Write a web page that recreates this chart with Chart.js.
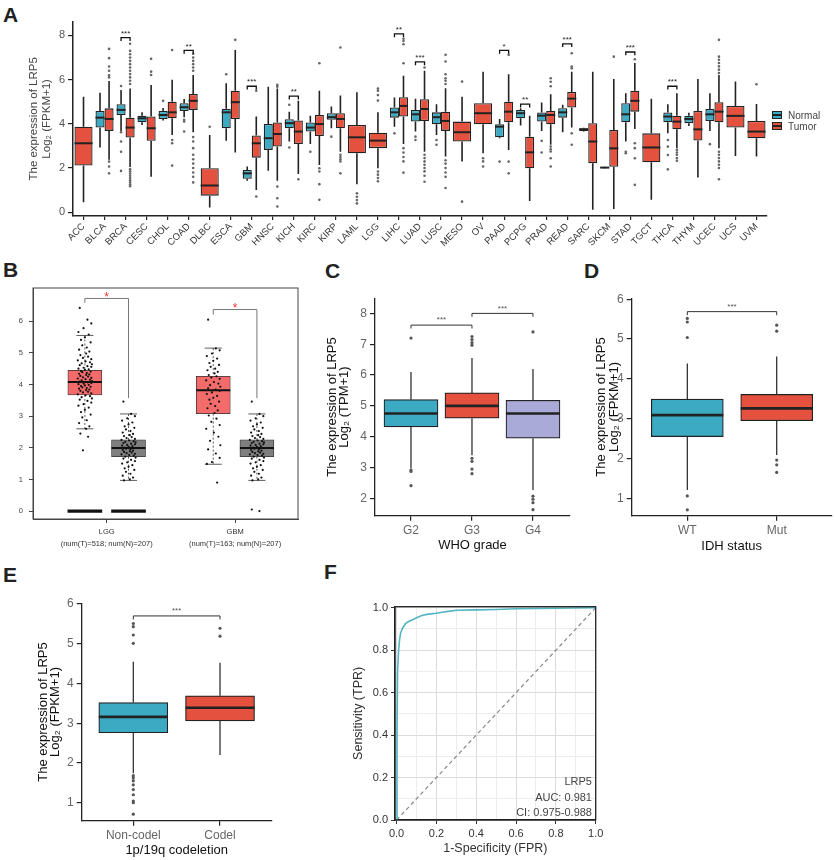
<!DOCTYPE html>
<html><head><meta charset="utf-8">
<script src="https://cdn.jsdelivr.net/npm/chart.js@4.4.1/dist/chart.umd.min.js"></script>
<style>
body{margin:0;background:#fff}
#fig{position:relative;width:835px;height:860px;overflow:hidden;font-family:'Liberation Sans',Arial,Helvetica,sans-serif}
.lt{position:absolute;font-size:21px;font-weight:bold;line-height:21px;color:#222}
.tx{position:absolute;white-space:nowrap;line-height:12px;z-index:5}
.key{position:absolute;width:8px;height:6px;border:1.5px solid #222;z-index:5}
.key i{position:absolute;left:0;right:0;top:2px;height:2px;background:#222}
</style></head><body>
<div id="fig">
  <div class="lt" style="left:3px;top:4px">A</div>
  <div class="lt" style="left:3px;top:259px">B</div>
  <div class="lt" style="left:325px;top:260px">C</div>
  <div class="lt" style="left:584px;top:260px">D</div>
  <div class="lt" style="left:3px;top:564px">E</div>
  <div class="lt" style="left:324px;top:561px">F</div>
  <div class="key" style="left:772px;top:111px;background:#3DAAC4"><i></i></div>
  <div class="tx" style="left:788px;top:110px;font-size:10px;color:#444">Normal</div>
  <div class="key" style="left:772px;top:122px;background:#E4513E"><i></i></div>
  <div class="tx" style="left:788px;top:121px;font-size:10px;color:#444">Tumor</div>
  <div class="tx" id="rocTxt" style="right:243px;top:774px;font-size:11px;line-height:15.6px;color:#444;text-align:right"></div>
</div>
<script>
// ---- A: pan-cancer expression (Normal vs Tumor) ----
const cancers=['ACC','BLCA','BRCA','CESC','CHOL','COAD','DLBC','ESCA','GBM','HNSC','KICH','KIRC','KIRP','LAML','LGG','LIHC','LUAD','LUSC','MESO','OV','PAAD','PCPG','PRAD','READ','SARC','SKCM','STAD','TGCT','THCA','THYM','UCEC','UCS','UVM'];
const normQ1 =[null,3.83,4.40,4.07,4.22,4.58,null,3.80,1.51,2.82,3.80,3.65,4.18,null,null,4.28,4.10,3.98,null,null,3.39,4.25,4.10,4.28,3.67,1.99,4.07,null,4.07,4.03,4.13,null,null];
const normMed=[null,4.28,4.63,4.25,4.40,4.75,null,4.52,1.76,3.35,4.03,3.83,4.30,null,null,4.52,4.43,4.30,null,null,3.87,4.48,4.37,4.52,3.75,2.02,4.43,null,4.33,4.22,4.43,null,null];
const normQ3 =[null,4.58,4.89,4.37,4.58,4.93,null,4.68,1.91,3.99,4.21,4.06,4.48,null,null,4.74,4.63,4.52,null,null,3.98,4.63,4.51,4.71,3.80,2.05,4.93,null,4.51,4.37,4.67,null,null];
const normLo =[null,2.93,3.68,3.95,4.15,4.30,null,3.23,1.42,1.88,3.20,3.09,3.80,null,null,3.87,3.65,3.50,null,null,3.35,3.92,3.68,3.62,3.65,1.98,3.20,null,3.57,3.90,3.68,null,null];
const normHi =[null,5.41,5.53,4.52,4.72,5.12,null,5.84,2.07,5.68,4.55,4.37,4.78,null,null,5.19,5.13,4.88,null,null,4.22,4.70,4.96,4.86,3.82,2.06,5.38,null,4.88,4.50,5.38,null,null];
const normOut=[[],[],[5.71,3.62,3.2,2.74,1.87],[],[5.04],[4.18,4.1,3.65],[],[6.24],[],[],[4.86,2.93],[2.74],[3.42],[],[],[3.57],[3.42,3.27],[3.27,3.05],[],[],[2.29],[],[3.23,2.7],[],[],[],[2.74,2.67],[],[3.27,2.97,2.59,1.94],[],[3.08],[],[]];
const tumQ1 =[2.11,3.68,3.38,3.23,4.25,4.63,0.75,4.22,2.47,2.97,3.09,3.45,3.80,2.67,2.90,4.33,4.13,3.68,3.20,3.98,4.07,1.99,3.98,4.74,2.22,2.06,4.55,2.26,3.75,3.24,4.07,3.83,3.35];
const tumMed=[3.12,4.22,3.83,3.80,4.52,5.04,1.21,4.98,3.12,3.54,3.65,3.99,4.22,3.39,3.24,4.81,4.67,4.13,3.62,4.48,4.55,2.71,4.40,5.14,3.20,2.89,5.04,2.93,4.10,3.75,4.55,4.36,3.65];
const tumQ3 =[3.87,4.70,4.28,4.33,5.00,5.35,1.99,5.50,3.47,4.06,4.15,4.40,4.48,3.95,3.60,5.20,5.11,4.55,4.10,4.93,5.00,3.42,4.58,5.44,4.03,3.72,5.50,3.57,4.37,4.58,4.98,4.81,4.13];
const tumLo =[0.45,2.37,2.05,1.61,3.50,3.62,0.21,2.70,1.01,1.42,1.73,2.14,2.74,1.27,1.99,3.09,2.74,2.52,2.29,2.67,2.82,0.51,3.05,3.83,0.11,0.15,3.77,0.56,2.89,1.57,2.89,2.55,2.52];
const tumHi =[5.23,5.94,5.60,5.76,5.99,6.21,3.50,7.34,4.33,5.60,5.04,5.50,5.28,5.43,4.52,6.18,6.40,5.61,5.23,6.36,6.24,4.37,5.34,6.36,6.36,6.03,6.75,5.13,5.38,6.03,6.21,5.91,4.90];
const tumOut=[[],[6.1,6.2,6.4,6.59,6.97,7.39,2.29,2.07,1.76],
 [5.8,5.95,6.1,6.25,6.4,6.55,6.7,6.85,7.0,7.15,7.3,7.62,1.95,1.85,1.75,1.65,1.55,1.45,1.35,1.25,1.18],
 [6.21,6.36,6.94],[7.34,3.27,3.12,2.11],
 [6.4,6.55,6.7,6.85,7.0,7.17,3.4,3.2,2.9,2.6,2.4,2.2,2.0,1.8,1.6,1.35],
 [3.87],[7.8],[5.5,0.71],[5.76,5.68,1.16,0.63,0.26],[1.49],[6.74,1.99,1.84,1.27,0.56],[7.45,2.6,2.5,2.4,2.3,1.76],
 [0.86,0.7,0.55,0.4],[5.6,5.5,5.3,5.05,1.84,1.7,1.55,1.4],[7.85,7.75,7.6,6.74,2.9,2.7,2.5,2.3,1.79],
 [6.55,2.6,2.45,2.3,2.15,2.0,1.85,1.65,1.38],[7.12,6.82,6.24,6.06,5.95,5.8,2.35,2.2,2.0,1.8,1.6,1.1],
 [5.91,0.48],[2.44,2.3,2.07],[7.12,2.29,1.76],[],[6.06,5.9,5.7,2.97,2.85,2.75,2.44,2.07],[7.19,6.59,6.51,3.57,3.05],
 [],[7.04],[6.92,3.12,2.9,2.44,1.24],[],[2.82,2.7,2.6,2.45,2.33],[],
 [7.8,7.04,6.9,6.75,6.6,6.45,6.3,2.74,2.6,2.45,2.3,2.15,2.0,1.49],[],[5.79]];
const sigCats=['BRCA','COAD','GBM','KICH','LIHC','LUAD','PAAD','PCPG','READ','STAD','THCA'];
const sigY  =[7.9,7.32,5.7,5.25,8.07,6.8,7.32,4.89,7.62,7.25,5.7];
const sigLab=['***','**','***','**','**','***','*','**','***','***','***'];
const yTicksA=[0,2,4,6,8];

// ---- B: GEPIA LGG / GBM ----
const bLabels=[['LGG','(num(T)=518; num(N)=207)'],['GBM','(num(T)=163; num(N)=207)']];
const bPos=[0.83,1.17,1.83,2.17];
const bQ1=[3.67,1.72,3.08,1.72], bMed=[4.08,1.99,3.82,1.99], bQ3=[4.45,2.25,4.26,2.25];
const bLo=[2.6,0.97,1.48,0.97], bHi=[5.55,3.07,5.15,3.07];
const bColors=['#F46B6B','#7F7F7F','#F46B6B','#7F7F7F'];
const bZeroPos=[0.83,1.17];
const bJitLggT=[6.42,6.05,5.93,5.78,5.66,5.58,5.49,5.41,5.33,5.24,5.17,5.1,5.04,4.98,4.93,4.88,4.84,4.8,4.76,4.73,4.7,4.67,4.64,4.61,4.58,4.56,4.53,4.5,4.48,4.46,4.43,4.41,4.39,4.36,4.34,4.32,4.3,4.27,4.25,4.23,4.21,4.19,4.17,4.15,4.13,4.11,4.09,4.07,4.05,4.03,4.01,3.99,3.97,3.95,3.93,3.91,3.89,3.87,3.84,3.82,3.8,3.77,3.75,3.72,3.69,3.66,3.63,3.6,3.56,3.52,3.48,3.43,3.38,3.33,3.27,3.2,3.13,3.05,2.96,2.87,2.78,2.68,2.6,2.45,2.35,1.92];
const bJitGbmT=[6.05,5.14,5.08,4.98,4.9,4.82,4.75,4.68,4.62,4.56,4.5,4.45,4.4,4.35,4.3,4.26,4.22,4.18,4.13,4.08,4.03,3.98,3.93,3.88,3.84,3.8,3.75,3.7,3.64,3.58,3.52,3.46,3.39,3.32,3.25,3.18,3.1,3.02,2.92,2.82,2.72,2.6,2.48,2.35,2.22,2.08,1.95,1.82,1.68,1.55,1.49,0.9];
const bJitNorm=[3.46,3.07,3.0,2.93,2.86,2.8,2.74,2.68,2.63,2.58,2.53,2.48,2.44,2.4,2.37,2.34,2.31,2.28,2.25,2.23,2.21,2.19,2.17,2.15,2.13,2.11,2.09,2.07,2.05,2.03,2.01,1.99,1.97,1.95,1.93,1.91,1.89,1.87,1.85,1.83,1.81,1.79,1.77,1.75,1.72,1.69,1.66,1.62,1.58,1.54,1.5,1.45,1.4,1.35,1.3,1.24,1.18,1.12,1.06,1.0,0.97];
const bJitGbmNExtra=[0.05,0.0];
const bJitOff=[-0.04,0.02,0.05,-0.01,-0.05,0.03,0.0,-0.03,0.045,-0.02,0.015,-0.045,0.035,0.01,-0.035,0.025,-0.015,0.05,-0.055,0.005,0.04,-0.025,0.055];
const bSigX1=[0.83,1.83], bSigX2=[1.17,2.17], bSigY=[6.72,6.37], bSigDropL=[6.58,6.21], bSigDropR=[3.57,3.57];
const yTicksB=[0,1,2,3,4,5,6];

// ---- C: WHO grade ----
const grades=['G2','G3','G4'];
const cQ1=[4.32,4.6,3.95], cMed=[4.75,5.0,4.75], cQ3=[5.2,5.42,5.18], cLo=[2.98,3.4,2.27], cHi=[6.1,6.55,6.2];
const cOut=[[7.2,2.92,2.87,2.41],[7.25,7.15,7.05,6.97,3.3,3.2,2.95,2.8],[7.4,2.07,1.97,1.86,1.63]];
const cSigX1=[1,2], cSigX2=[2,3], cSigY=[7.62,8.0];
const yTicksC=[2,3,4,5,6,7,8];

// ---- D: IDH status ----
const idh=['WT','Mut'];
const dQ1=[2.55,2.95], dMed=[3.09,3.26], dQ3=[3.49,3.61], dLo=[1.21,2.09], dHi=[4.39,4.56];
const dOut=[[5.52,5.43,5.04,1.06,0.71],[5.35,5.2,1.96,1.84,1.65]];
const dSigY=5.69;

// ---- E: 1p/19q codeletion ----
const codel=['Non-codel','Codel'];
const eQ1=[2.76,3.06], eMed=[3.16,3.39], eQ3=[3.52,3.69], eLo=[1.74,2.2], eHi=[4.55,4.52];
const eOut=[[5.51,5.43,5.22,5.01,1.68,1.62,1.55,1.45,1.33,1.2,1.04,1.0,0.71],[5.39,5.19]];
const eSigY=5.7;
const yTicksDE=[1,2,3,4,5,6];

// ---- F: ROC ----
const rocFpr=[0,0.002,0.005,0.01,0.015,0.02,0.03,0.045,0.06,0.08,0.1,0.13,0.16,0.2,0.25,0.3,0.4,0.5,0.6,0.8,1.0];
const rocTpr=[0,0.4,0.7,0.8,0.85,0.88,0.905,0.925,0.935,0.943,0.953,0.965,0.97,0.974,0.982,0.988,0.99,0.992,0.995,0.998,1.0];
const diagX=[0,1], diagY=[0,1];
const fTicks=[0,0.1,0.2,0.3,0.4,0.5,0.6,0.7,0.8,0.9,1.0];
const rocLines=['LRP5','AUC: 0.981','CI: 0.975-0.988'];

const TEAL='#3DAAC4', RED='#E4513E', LAV='#AAAAD8';
Chart.defaults.font.family="'Liberation Sans', Arial, Helvetica, sans-serif";

function mk(l,t,w,h,cfg){
  const c=document.createElement('canvas');c.width=w;c.height=h;
  c.style.cssText=`position:absolute;left:${l}px;top:${t}px;width:${w}px;height:${h}px`;
  document.getElementById('fig').appendChild(c);
  cfg.options=Object.assign({responsive:false,animation:false,events:[]},cfg.options);
  cfg.options.plugins=Object.assign({legend:{display:false},tooltip:{enabled:false}},cfg.options.plugins);
  return new Chart(c,cfg);
}

// whiskers under the boxes, medians + outliers on top
function eachBox(chart,fn){
  const ctx=chart.ctx,ys=chart.scales.y,yp=v=>ys.getPixelForValue(v);
  ctx.save();
  chart.data.datasets.forEach((ds,di)=>{
    if(!ds.med)return;
    chart.getDatasetMeta(di).data.forEach((el,i)=>{
      if(ds.med[i]==null)return;
      const p=el.getProps(['x','width'],true);
      fn(ctx,ds,i,p.x,p.width,yp);
    });
  });
  ctx.restore();
}
function boxPlugin(st){
  return{id:'box',
    beforeDatasetsDraw(chart){eachBox(chart,(ctx,ds,i,x,w,yp)=>{
      ctx.strokeStyle=st.wc;ctx.lineWidth=st.ww;ctx.setLineDash(st.dash||[]);
      ctx.beginPath();ctx.moveTo(x,yp(ds.hi[i]));ctx.lineTo(x,yp(ds.q3[i]));ctx.moveTo(x,yp(ds.q1[i]));ctx.lineTo(x,yp(ds.lo[i]));ctx.stroke();
      ctx.setLineDash([]);
      if(st.cap){const c=w*st.cap/2;ctx.beginPath();ctx.moveTo(x-c,yp(ds.hi[i]));ctx.lineTo(x+c,yp(ds.hi[i]));ctx.moveTo(x-c,yp(ds.lo[i]));ctx.lineTo(x+c,yp(ds.lo[i]));ctx.stroke()}
    })},
    afterDatasetsDraw(chart){eachBox(chart,(ctx,ds,i,x,w,yp)=>{
      ctx.strokeStyle=st.mc;ctx.lineWidth=st.mw;
      ctx.beginPath();ctx.moveTo(x-w/2,yp(ds.med[i]));ctx.lineTo(x+w/2,yp(ds.med[i]));ctx.stroke();
      ctx.fillStyle=st.oc;
      ((ds.out&&ds.out[i])||[]).forEach(v=>{ctx.beginPath();ctx.arc(x,yp(v),st.or,0,Math.PI*2);ctx.fill()});
    })}
  };
}
// significance brackets
function sigPlugin(items,st){
  return{id:'sig',afterDatasetsDraw(chart){
    const ctx=chart.ctx,xs=chart.scales.x,ys=chart.scales.y;
    ctx.save();ctx.lineWidth=st.lw;ctx.strokeStyle=st.lc;
    items.forEach(it=>{
      const x1=it.i!=null?chart.getDatasetMeta(0).data[it.i].x:xs.getPixelForValue(it.x1);
      const x2=it.i!=null?chart.getDatasetMeta(1).data[it.i].x:xs.getPixelForValue(it.x2);
      const y=ys.getPixelForValue(it.y);
      ctx.beginPath();ctx.moveTo(x1,ys.getPixelForValue(it.d1));ctx.lineTo(x1,y);ctx.lineTo(x2,y);ctx.lineTo(x2,ys.getPixelForValue(it.d2));ctx.stroke();
      ctx.fillStyle=st.tc;ctx.font=st.font;ctx.textAlign='center';ctx.textBaseline='bottom';
      ctx.fillText(it.label,(x1+x2)/2,y-st.gap);
    });
    ctx.restore();
  }};
}
function framePlugin(color,lw){
  return{id:'frame',afterDatasetsDraw(chart){
    const a=chart.chartArea,ctx=chart.ctx;ctx.save();ctx.strokeStyle=color;ctx.lineWidth=lw;
    ctx.strokeRect(a.left,a.top,a.right-a.left,a.bottom-a.top);ctx.restore();
  }};
}
function linY(min,max,ticks,w,o){
  return Object.assign({type:'linear',min,max,
    afterFit:s=>{s.width=w},
    afterBuildTicks:s=>{s.ticks=ticks.map(v=>({value:v}))},
    border:{display:true,color:'#222',width:1.3},
    grid:{drawOnChartArea:false,tickLength:5,color:'#222',lineWidth:1.2},
    ticks:{color:'#666',font:{size:12},padding:3}},o||{});
}
function catX(min,max,labels,h,o){
  return Object.assign({type:'linear',min,max,offset:false,
    afterFit:s=>{s.height=h},
    afterBuildTicks:s=>{s.ticks=labels.map((_,k)=>({value:k+1}))},
    border:{display:true,color:'#222',width:1.3},
    grid:{drawOnChartArea:false,offset:false,tickLength:5,color:'#222',lineWidth:1.2},
    ticks:{color:'#666',font:{size:12},padding:3,maxRotation:0,callback:v=>labels[Math.round(v)-1]}},o||{});
}
function boxSet(q1,med,q3,lo,hi,out,colors,maxW){
  return{type:'bar',data:q1.map((v,k)=>({x:k+1,y:[v,q3[k]]})),q1,q3,med,lo,hi,out,
    backgroundColor:colors,borderColor:'#222',borderWidth:1.2,borderSkipped:false,
    grouped:false,maxBarThickness:maxW,categoryPercentage:1,barPercentage:1};
}
const stCDE={wc:'#222',ww:1.2,mc:'#222',mw:2.6,oc:'#555',or:1.6};
const stSig={lw:1,lc:'#333',tc:'#555',font:'8px "Liberation Sans", Arial',gap:1};
const yTitle=(lines,pt)=>({display:true,text:lines,color:'#111',font:{size:13,lineHeight:0.96},padding:{top:pt,bottom:0}});

// ===== A =====
mk(0,0,835,262,{type:'bar',
  data:{labels:cancers,datasets:[
    {data:normQ1.map((v,i)=>v==null?null:[v,normQ3[i]]),q1:normQ1,q3:normQ3,med:normMed,lo:normLo,hi:normHi,out:normOut,
     backgroundColor:TEAL,borderColor:'#222',borderWidth:1.3,borderSkipped:false,skipNull:true,categoryPercentage:0.86,barPercentage:1},
    {data:tumQ1.map((v,i)=>[v,tumQ3[i]]),q1:tumQ1,q3:tumQ3,med:tumMed,lo:tumLo,hi:tumHi,out:tumOut,
     backgroundColor:RED,borderColor:'#222',borderWidth:1.3,borderSkipped:false,skipNull:true,categoryPercentage:0.86,barPercentage:1}]},
  options:{layout:{padding:{top:21.7,right:68,left:0,bottom:0}},
    scales:{
      x:{type:'category',offset:true,afterFit:s=>{s.height=46},
        border:{display:true,color:'#222',width:1.5},
        grid:{drawOnChartArea:false,offset:false,tickLength:4,color:'#222',lineWidth:1.2},
        ticks:{color:'#333',font:{size:9.5},minRotation:45,maxRotation:45,autoSkip:false,padding:1}},
      y:linY(-0.17,8.62,yTicksA,73,{border:{display:true,color:'#222',width:1.5},
        ticks:{color:'#555',font:{size:11},padding:3},
        title:{display:true,text:['The expression of LRP5','Log₂ (FPKM+1)'],color:'#444',font:{size:11.5,lineHeight:1.08},padding:{top:28,bottom:0}}})}},
  plugins:[boxPlugin({wc:'#222',ww:1.6,mc:'#222',mw:2,oc:'#666',or:1.3}),
    sigPlugin(sigCats.map((c,k)=>({i:cancers.indexOf(c),y:sigY[k],d1:sigY[k]-0.15,d2:sigY[k]-0.15,label:sigLab[k]})),
      {lw:1.3,lc:'#111',tc:'#222',font:'8px "Liberation Sans", Arial',gap:0})]
});

// ===== B =====
const jitter=(pos,vals)=>vals.map((v,k)=>({x:pos+bJitOff[k%bJitOff.length],y:v}));
mk(0,270,305,285,{type:'bar',
  data:{datasets:[
    {type:'bar',order:2,data:bPos.map((p,k)=>({x:p,y:[bQ1[k],bQ3[k]]})),q1:bQ1,q3:bQ3,med:bMed,lo:bLo,hi:bHi,
     backgroundColor:bColors,borderColor:'#333',borderWidth:0.8,borderSkipped:false,grouped:false,maxBarThickness:34,categoryPercentage:1,barPercentage:1},
    {type:'bar',order:2,data:bZeroPos.map(p=>({x:p,y:[-0.04,0.04]})),backgroundColor:'#111',borderWidth:0,grouped:false,maxBarThickness:34,categoryPercentage:1,barPercentage:1},
    {type:'scatter',order:1,data:[...jitter(bPos[0],bJitLggT),...jitter(bPos[1],bJitNorm),...jitter(bPos[2],bJitGbmT),...jitter(bPos[3],bJitNorm),...jitter(bPos[3],bJitGbmNExtra)],
     pointRadius:1.1,backgroundColor:'#111',borderWidth:0}]},
  options:{layout:{padding:{top:18,right:7,left:0,bottom:0}},
    scales:{
      x:{type:'linear',min:0.426,max:2.49,offset:false,afterFit:s=>{s.height=36},
        afterBuildTicks:s=>{s.ticks=bLabels.map((_,k)=>({value:k+1}))},
        border:{display:true,color:'#444',width:1},
        grid:{drawOnChartArea:false,offset:false,tickLength:4,color:'#444',lineWidth:1},
        ticks:{color:'#333',font:{size:7.5,lineHeight:1.55},padding:3,maxRotation:0,callback:v=>bLabels[Math.round(v)-1]}},
      y:{type:'linear',min:-0.25,max:7.05,afterFit:s=>{s.width=33},
        afterBuildTicks:s=>{s.ticks=yTicksB.map(v=>({value:v}))},
        border:{display:true,color:'#444',width:1},
        grid:{drawOnChartArea:false,tickLength:4,color:'#444',lineWidth:1},
        ticks:{color:'#444',font:{size:7.5},padding:6}}}},
  plugins:[boxPlugin({wc:'#333',ww:0.8,dash:[2,2],cap:0.5,mc:'#111',mw:2,oc:'#111',or:1}),
    sigPlugin(bSigX1.map((x,k)=>({x1:x,x2:bSigX2[k],y:bSigY[k],d1:bSigDropL[k],d2:bSigDropR[k],label:'*'})),
      {lw:1,lc:'#777',tc:'#E8333A',font:'12px "Liberation Sans", Arial',gap:-5}),
    framePlugin('#444',1)]
});

// ===== C =====
mk(300,262,280,300,{type:'bar',
  data:{datasets:[boxSet(cQ1,cMed,cQ3,cLo,cHi,cOut,[TEAL,RED,LAV],54)]},
  options:{layout:{padding:{top:36.3,right:10,left:0,bottom:0}},
    scales:{
      x:catX(0.41,3.607,grades,46.3,{title:{display:true,text:'WHO grade',color:'#111',font:{size:13},padding:{top:0,bottom:8.7}}}),
      y:linY(1.436,8.49,yTicksC,75,{title:yTitle(['The expression of LRP5','Log₂ (TPM+1)'],26)})}},
  plugins:[boxPlugin(stCDE),sigPlugin(cSigX1.map((x,k)=>({x1:x,x2:cSigX2[k],y:cSigY[k],d1:cSigY[k]-0.11,d2:cSigY[k]-0.11,label:'***'})),stSig)]
});

// ===== D =====
mk(570,262,265,300,{type:'bar',
  data:{datasets:[boxSet(dQ1,dMed,dQ3,dLo,dHi,dOut,[TEAL,RED],72)]},
  options:{layout:{padding:{top:36.3,right:3.3,left:0,bottom:0}},
    scales:{
      x:catX(0.378,2.615,idh,46.3,{title:{display:true,text:'IDH status',color:'#111',font:{size:13},padding:{top:0,bottom:8.2}}}),
      y:linY(0.563,6.025,yTicksDE,61.7,{title:yTitle(['The expression of LRP5','Log₂ (FPKM+1)'],25.4)})}},
  plugins:[boxPlugin(stCDE),sigPlugin([{x1:1,x2:2,y:dSigY,d1:dSigY-0.09,d2:dSigY-0.09,label:'***'}],stSig)]
});

// ===== E =====
mk(0,560,300,300,{type:'bar',
  data:{datasets:[boxSet(eQ1,eMed,eQ3,eLo,eHi,eOut,[TEAL,RED],69)]},
  options:{layout:{padding:{top:43.3,right:28.3,left:0,bottom:0}},
    scales:{
      x:catX(0.405,2.596,codel,39.3,{title:{display:true,text:'1p/19q codeletion',color:'#111',font:{size:13},padding:{top:0,bottom:2.2}}}),
      y:linY(0.547,6.018,yTicksDE,81.7,{title:yTitle(['The expression of LRP5','Log₂ (FPKM+1)'],37)})}},
  plugins:[boxPlugin(stCDE),sigPlugin([{x1:1,x2:2,y:eSigY,d1:eSigY-0.09,d2:eSigY-0.09,label:'***'}],stSig)]
});

// ===== F =====
const isMaj=v=>Math.abs(v*5-Math.round(v*5))<1e-6;
const fTickOpts={color:'#333',font:{size:11},padding:3.4,maxRotation:0,minRotation:0,autoSkip:false,callback:v=>isMaj(v)?v.toFixed(1):''};
const fAxis=(min,max,o)=>Object.assign({type:'linear',min,max,
  afterBuildTicks:s=>{s.ticks=fTicks.map(v=>({value:v}))},
  border:{display:true,color:'#222',width:1.3},
  grid:{drawOnChartArea:true,tickLength:4,lineWidth:1,
    color:c=>c.tick&&isMaj(c.tick.value)?'#dcdcdc':'#ececec',
    tickColor:c=>c.tick&&isMaj(c.tick.value)?'#333':'rgba(0,0,0,0)'},
  ticks:fTickOpts},o);
mk(330,560,280,300,{type:'scatter',
  data:{datasets:[
    {order:0,data:rocFpr.map((x,i)=>({x,y:rocTpr[i]})),showLine:true,borderColor:'#52B5C2',borderWidth:1.6,pointRadius:0},
    {order:1,data:diagX.map((x,i)=>({x,y:diagY[i]})),showLine:true,borderColor:'#888',borderWidth:1.2,borderDash:[4,3],pointRadius:0}]},
  options:{layout:{padding:{top:46.7,right:14.3,left:0,bottom:0}},
    scales:{
      x:fAxis(-0.008,1.0,{afterFit:s=>{s.height=40},
        title:{display:true,text:'1-Specificity (FPR)',color:'#333',font:{size:12.5},padding:{top:0,bottom:3.5}}}),
      y:fAxis(0,1.005,{afterFit:s=>{s.width=65},ticks:Object.assign({},fTickOpts,{padding:3}),
        title:{display:true,text:'Sensitivity (TPR)',color:'#333',font:{size:12.5},padding:{top:20.8,bottom:0}}})}},
  plugins:[framePlugin('#222',1.3)]
});
document.getElementById('rocTxt').innerHTML=rocLines.join('<br>');
</script>
</body></html>
